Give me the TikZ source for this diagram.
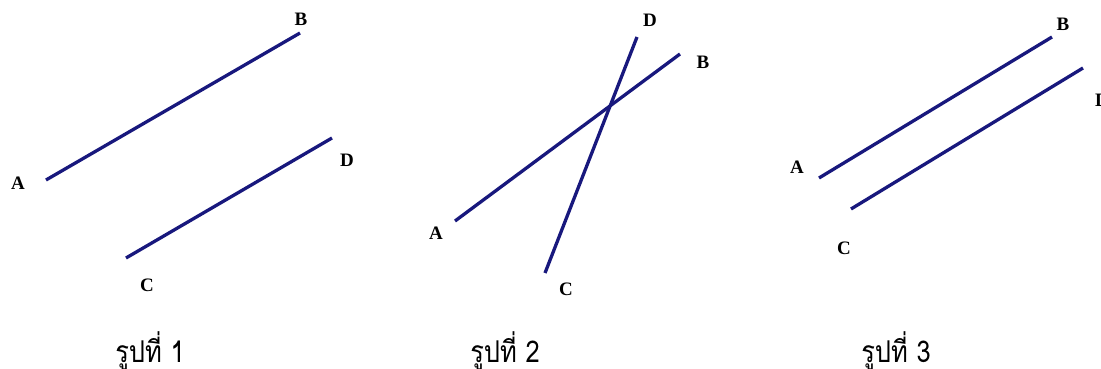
\documentclass[tikz,border=0pt]{standalone}
\usepackage{fontspec}
\setmainfont{Liberation Serif}
\newfontfamily\thaifont[Script=Thai]{Loma}
\definecolor{segblue}{RGB}{24,24,125}
\tikzset{
  seg/.style={draw=segblue, line width=3.3pt},
  ptlabel/.style={font=\bfseries\fontsize{19}{19}\selectfont, inner sep=0pt},
  caption/.style={font=\thaifont\fontsize{30}{30}\selectfont, inner sep=0pt, anchor=base, xscale=0.85}
}
\begin{document}
\begin{tikzpicture}[x=1pt,y=-1pt]
\useasboundingbox (0,0) rectangle (1101,369);
\clip (0,0) rectangle (1101,369);
% figure 1
\coordinate (A1) at (46,180);
\coordinate (B1) at (300,33);
\coordinate (C1) at (126,258);
\coordinate (D1) at (332,138);
\draw[seg] (A1) -- (B1);
\draw[seg] (C1) -- (D1);
\node[ptlabel] (lA1) at (18,183) {A};
\node[ptlabel] (lB1) at (301,19) {B};
\node[ptlabel] (lC1) at (147,285) {C};
\node[ptlabel] (lD1) at (347,160) {D};
% figure 2
\coordinate (A2) at (455,221);
\coordinate (B2) at (680,54);
\coordinate (C2) at (545,273);
\coordinate (D2) at (637,37);
\draw[seg] (A2) -- (B2);
\draw[seg] (C2) -- (D2);
\node[ptlabel] (lA2) at (436,233) {A};
\node[ptlabel] (lB2) at (703,62) {B};
\node[ptlabel] (lC2) at (566,289) {C};
\node[ptlabel] (lD2) at (650,20) {D};
% figure 3
\coordinate (A3) at (819,178);
\coordinate (B3) at (1052,37);
\coordinate (C3) at (851,209);
\coordinate (D3) at (1083,68);
\draw[seg] (A3) -- (B3);
\draw[seg] (C3) -- (D3);
\node[ptlabel] (lA3) at (797,167) {A};
\node[ptlabel] (lB3) at (1063,24) {B};
\node[ptlabel] (lC3) at (844,248) {C};
\node[ptlabel] (lD3) at (1102,100) {D};
% captions
\node[caption] (cap1) at (150,362) {รูปที่ 1};
\node[caption] (cap2) at (505,362) {รูปที่ 2};
\node[caption] (cap3) at (896,362) {รูปที่ 3};
\end{tikzpicture}
\end{document}
